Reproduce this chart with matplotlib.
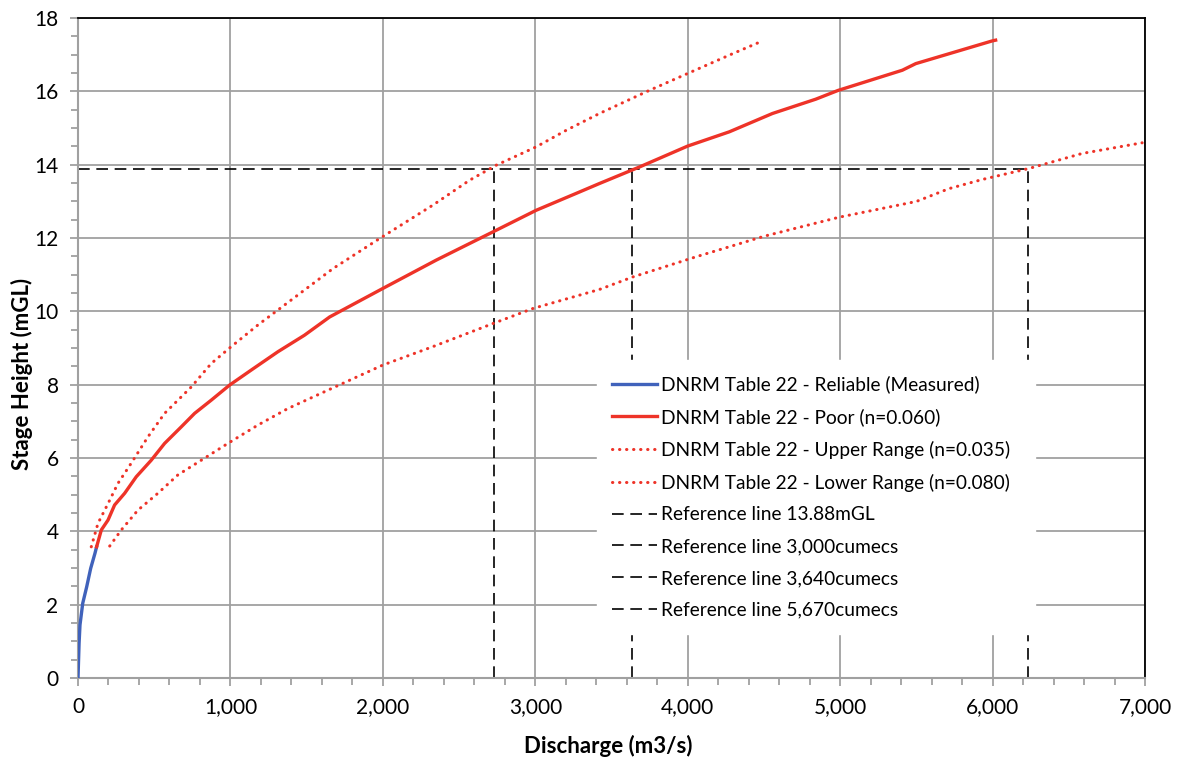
import matplotlib
matplotlib.use("Agg")
import matplotlib.pyplot as plt
from matplotlib.ticker import MultipleLocator, FuncFormatter

plt.rcParams['font.family'] = ['Lato', 'DejaVu Sans']

# ---- data ----
measured_q = [0, 7, 13, 31, 57, 83, 111, 122]
measured_h = [0, 0.95, 1.45, 2.04, 2.49, 2.99, 3.40, 3.58]

poor_q = [122, 153, 197, 240, 306, 382, 480, 568, 677, 765, 874, 994, 1136, 1311,
          1485, 1651, 2001, 2350, 2722, 3006, 3268, 3421, 3683, 3999, 4273, 4556,
          4840, 4987, 5408, 5496, 5998, 6020]
poor_h = [3.58, 4.04, 4.31, 4.72, 5.04, 5.49, 5.94, 6.40, 6.85, 7.22, 7.58, 7.99,
          8.40, 8.90, 9.35, 9.85, 10.63, 11.40, 12.17, 12.76, 13.22, 13.49, 13.94,
          14.51, 14.90, 15.40, 15.79, 16.03, 16.58, 16.76, 17.38, 17.40]

upper_q = [87, 131, 197, 262, 349, 459, 568, 743, 874, 1005, 1180, 1398, 1673,
           1979, 2328, 2569, 2744, 3006, 3202, 3421, 3748, 3999, 4294, 4491]
upper_h = [3.58, 4.22, 4.76, 5.31, 5.86, 6.58, 7.22, 7.94, 8.58, 9.04, 9.63, 10.31,
           11.17, 11.99, 12.90, 13.58, 13.99, 14.49, 14.94, 15.40, 16.03, 16.49,
           17.03, 17.38]

lower_q = [208, 284, 393, 524, 655, 808, 983, 1180, 1376, 1617, 2001, 2328, 2722,
           2984, 3421, 3639, 4054, 4500, 4993, 5500, 5714, 5933, 6239, 6588, 6981]
lower_h = [3.60, 4.04, 4.58, 5.04, 5.54, 5.94, 6.40, 6.90, 7.35, 7.81, 8.54, 9.04,
           9.67, 10.08, 10.60, 10.94, 11.49, 12.05, 12.57, 13.00, 13.35, 13.60,
           13.90, 14.31, 14.60]

ref_level = 13.88
ref_q = [2730, 3635, 6230]

labels = ['DNRM Table 22 - Reliable (Measured)',
          'DNRM Table 22 - Poor (n=0.060)',
          'DNRM Table 22 - Upper Range (n=0.035)',
          'DNRM Table 22 - Lower Range (n=0.080)',
          'Reference line 13.88mGL',
          'Reference line 3,000cumecs',
          'Reference line 3,640cumecs',
          'Reference line 5,670cumecs']

red = '#ee3328'
blue = '#4062bb'
grey = '#a0a0a0'

fig = plt.figure(figsize=(11.82, 7.57), dpi=100)
ax = fig.add_axes([0.066, 0.1043, 0.9027, 0.8717])

dots = (0, (0.1, 2.2))
ax.plot(measured_q, measured_h, color=blue, lw=2.4, label=labels[0], zorder=3)
ax.plot(poor_q, poor_h, color=red, lw=2.4, label=labels[1], zorder=3)
ax.plot(upper_q, upper_h, color=red, lw=2.2, ls=dots, dash_capstyle='round',
        label=labels[2], zorder=3)
ax.plot(lower_q, lower_h, color=red, lw=2.2, ls=dots, dash_capstyle='round',
        label=labels[3], zorder=3)

dash = (0, (7, 4))
ax.plot([0, ref_q[2]], [ref_level, ref_level], color='black', lw=1.2, ls=dash, label=labels[4], zorder=2)
for q, lab in zip(ref_q, labels[5:]):
    ax.plot([q, q], [0, ref_level], color='black', lw=1.2, ls=dash, label=lab, zorder=2)

ax.set_xlim(0, 7000)
ax.set_ylim(0, 18)
ax.xaxis.set_major_locator(MultipleLocator(1000))
ax.xaxis.set_minor_locator(MultipleLocator(200))
ax.yaxis.set_major_locator(MultipleLocator(2))
ax.yaxis.set_minor_locator(MultipleLocator(0.5))
ax.xaxis.set_major_formatter(FuncFormatter(lambda v, p: f'{int(v):,}'))

ax.grid(True, which='major', color=grey, lw=1.3, zorder=0)
ax.set_axisbelow(True)
ax.tick_params(which='both', direction='out', color=grey, width=1.3, labelsize=15)
ax.tick_params(which='major', length=6, pad=8)
ax.tick_params(which='minor', length=5)

for s in ['left', 'bottom']:
    ax.spines[s].set_color(grey)
    ax.spines[s].set_linewidth(1.5)
for s in ['top', 'right']:
    ax.spines[s].set_color('black')
    ax.spines[s].set_linewidth(1.3)

ax.set_xlabel('Discharge (m3/s)', fontsize=16, fontweight='bold')
ax.set_ylabel('Stage Height (mGL)', fontsize=16, fontweight='bold')
ax.xaxis.set_label_coords(0.497, -0.086)
ax.yaxis.set_label_coords(-0.042, 0.461)

leg = ax.legend(loc='upper left', bbox_to_anchor=(0.4864, 0.0, 0.4105, 0.4818),
                mode='expand', fontsize=13.8,
                frameon=True, facecolor='white', edgecolor='white', framealpha=1,
                fancybox=False, handlelength=2.35, handletextpad=0.17,
                labelspacing=0.77, borderpad=0.8, borderaxespad=0)

fig.savefig('out.png', dpi=100)
